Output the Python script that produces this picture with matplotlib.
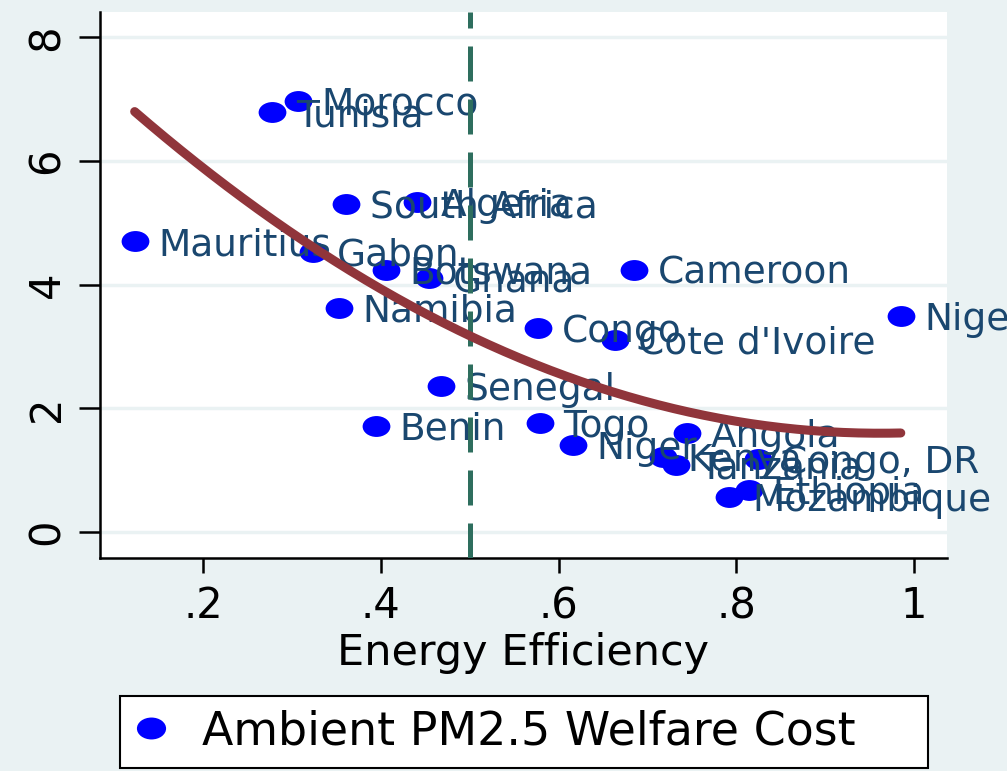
import numpy as np
import matplotlib
matplotlib.use("Agg")
import matplotlib.pyplot as plt
from matplotlib.path import Path
from matplotlib.transforms import Affine2D
from matplotlib.lines import Line2D

# Country-level observations
countries = ["Morocco", "Tunisia", "South Africa", "Algeria", "Mauritius", "Gabon",
             "Botswana", "Ghana", "Namibia", "Cameroon", "Nigeria", "Congo",
             "Cote d'Ivoire", "Senegal", "Benin", "Togo", "Niger", "Angola",
             "Kenya", "Tanzania", "Congo, DR", "Ethiopia", "Mozambique"]
efficiency = [0.307, 0.278, 0.361, 0.441, 0.123, 0.324,
              0.406, 0.454, 0.353, 0.685, 0.985, 0.577,
              0.663, 0.468, 0.394, 0.579, 0.616, 0.745,
              0.718, 0.732, 0.824, 0.814, 0.792]
welfare_cost = [6.98, 6.79, 5.31, 5.34, 4.70, 4.53,
                4.24, 4.11, 3.63, 4.24, 3.50, 3.30,
                3.11, 2.36, 1.72, 1.77, 1.41, 1.60,
                1.21, 1.09, 1.18, 0.68, 0.57]

xtick_vals = [0.2, 0.4, 0.6, 0.8, 1.0]
xtick_labels = [".2", ".4", ".6", ".8", "1"]
ytick_vals = [0, 2, 4, 6, 8]
ytick_labels = ["0", "2", "4", "6", "8"]
threshold = 0.5

BG = "#eaf2f3"
NAVY = "#1a476f"
MAROON = "#90353b"
TEAL = "#2e6e5e"

plt.rcParams["font.family"] = ["DejaVu Sans"]

fig = plt.figure(figsize=(10.07, 7.71), dpi=100, facecolor=BG)
ax = fig.add_axes([100 / 1007, 1 - 558 / 771, 847 / 1007, 546.5 / 771])
ax.set_facecolor("white")

x = np.array(efficiency)
y = np.array(welfare_cost)

# slightly wide oval marker
oval = Path.unit_circle().transformed(Affine2D().scale(1.33, 1.0))

ax.plot(x, y, linestyle="none", marker=oval, markersize=20,
        color="#0000ff", markeredgewidth=0, zorder=3)
for name, xi, yi in zip(countries, x, y):
    ax.annotate(name, (xi, yi), xytext=(17, 0), textcoords="offset points",
                ha="left", va="center_baseline", fontsize=27, color=NAVY,
                zorder=4, annotation_clip=False)

ax.axvline(threshold, color=TEAL, lw=3.6, dashes=(7, 3.6), zorder=5)

# quadratic fit
coef = np.polyfit(x, y, 2)
xf = np.linspace(x.min(), x.max(), 200)
ax.plot(xf, np.polyval(coef, xf), color=MAROON, lw=6.5,
        solid_capstyle="round", zorder=6)

ax.set_xlim(0.084, 1.037)
ax.set_ylim(-0.42, 8.42)
ax.set_xticks(xtick_vals, xtick_labels)
ax.set_yticks(ytick_vals, ytick_labels, rotation=90, va="center")

ax.yaxis.grid(True, color=BG, lw=2.5)
ax.set_axisbelow(True)
for side in ("top", "right"):
    ax.spines[side].set_visible(False)
for side in ("left", "bottom"):
    ax.spines[side].set_linewidth(1.8)

ax.tick_params(axis="x", length=10.8, width=1.8, labelsize=30, pad=9)
ax.tick_params(axis="y", length=15, width=1.8, labelsize=30, pad=8)

ax.set_xlabel("Energy Efficiency", fontsize=31, labelpad=3)

handle = Line2D([], [], linestyle="none", marker=oval, markersize=21,
                color="#0000ff", markeredgewidth=0)
leg = fig.legend([handle], ["Ambient PM2.5 Welfare Cost"], loc="lower left",
                 bbox_to_anchor=(120 / 1007, 3 / 771, 808 / 1007, 74 / 771),
                 mode="expand", fontsize=33, borderpad=0.3, borderaxespad=0,
                 handlelength=0.75, handletextpad=0.75, fancybox=False,
                 framealpha=1, facecolor="white", edgecolor="black")
leg.get_frame().set_linewidth(1.5)

fig.savefig("out.png", dpi=100, facecolor=BG)
